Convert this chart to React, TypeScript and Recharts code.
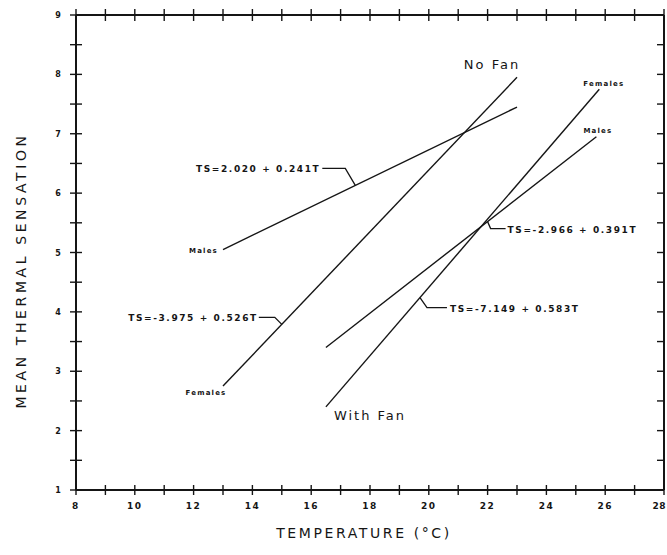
import { LineChart, Line, XAxis, YAxis, ReferenceDot } from 'recharts';

// temperature (°C) and thermal sensation ticks
const tempTicks = [8, 9, 10, 11, 12, 13, 14, 15, 16, 17, 18, 19, 20, 21, 22, 23, 24, 25, 26, 27, 28];
const sensationTicks = [1, 1.5, 2, 2.5, 3, 3.5, 4, 4.5, 5, 5.5, 6, 6.5, 7, 7.5, 8, 8.5, 9];

// regression lines
const noFanMales = [{ t: 13, ts: 5.05 }, { t: 23, ts: 7.45 }];
const noFanFemales = [{ t: 13, ts: 2.75 }, { t: 23, ts: 7.95 }];
const withFanMales = [{ t: 16.5, ts: 3.4 }, { t: 25.7, ts: 6.95 }];
const withFanFemales = [{ t: 16.5, ts: 2.4 }, { t: 25.8, ts: 7.75 }];

// equation callouts and the point where each leader touches its line
const equations = ['TS=2.020 + 0.241T', 'TS=-3.975 + 0.526T', 'TS=-2.966 + 0.391T', 'TS=-7.149 + 0.583T'];
const equationAnchors = [
  { t: 17.5, ts: 6.13 },
  { t: 15, ts: 3.79 },
  { t: 22, ts: 5.52 },
  { t: 19.7, ts: 4.24 },
];

const INK = '#151515';
const FONT = '"DejaVu Sans", "Liberation Sans", sans-serif';

const BottomTick = (props: any) => {
  const { x, y, payload } = props;
  const v = payload.value;
  const last = v === 28;
  return (
    <g>
      <line x1={x} x2={x} y1={y - 5} y2={y + 5} stroke={INK} strokeWidth={1.4} />
      {v % 2 === 0 && (
        <text
          x={last ? 666 : x}
          y={y + 19}
          textAnchor={last ? 'end' : 'middle'}
          fontSize={9}
          fontWeight="bold"
          letterSpacing={last ? 0.5 : 1.5}
          fill={INK}
          fontFamily={FONT}
        >
          {v}
        </text>
      )}
    </g>
  );
};

const TopTick = (props: any) => {
  const { x, y } = props;
  return <line x1={x} x2={x} y1={y - 6} y2={y + 6} stroke={INK} strokeWidth={1.4} />;
};

const LeftTick = (props: any) => {
  const { x, y, payload } = props;
  const v = payload.value;
  return (
    <g>
      <line x1={x - 6} x2={x + 6} y1={y} y2={y} stroke={INK} strokeWidth={1.4} />
      {Number.isInteger(v) && (
        <text x={x - 18} y={y + 3} textAnchor="middle" fontSize={8} fontWeight="bold" fill={INK} fontFamily={FONT}>
          {v}
        </text>
      )}
    </g>
  );
};

const RightTick = (props: any) => {
  const { x, y } = props;
  return <line x1={x - 7} x2={x} y1={y} y2={y} stroke={INK} strokeWidth={1.4} />;
};

const YTitle = (props: any) => {
  const { viewBox } = props;
  const x = 21;
  const y = viewBox.y + viewBox.height / 2 + 18;
  return (
    <text x={x} y={y} transform={`rotate(-90 ${x} ${y})`} textAnchor="middle" dominantBaseline="central" fontSize={14} letterSpacing={3.6} fill={INK} fontFamily={FONT}>
      MEAN THERMAL SENSATION
    </text>
  );
};

const XTitle = (props: any) => {
  const { viewBox } = props;
  const x = viewBox.x + viewBox.width / 2 - 6;
  return (
    <text x={x} y={viewBox.y + 48} textAnchor="middle" fontSize={14} letterSpacing={2.6} fill={INK} fontFamily={FONT}>
      TEMPERATURE (°C)
    </text>
  );
};

// leader hook plus text, offsets relative to the anchor on the line
const callout = (text: string, hook: number[][], tx: number, ty: number, anchor: 'start' | 'end') => (p: any) => {
  const pts = hook.map(([dx, dy]) => `${p.cx + dx},${p.cy + dy}`).join(' ');
  return (
    <g>
      <polyline points={pts} fill="none" stroke={INK} strokeWidth={1.3} />
      <text x={p.cx + tx} y={p.cy + ty} textAnchor={anchor} fontSize={9} fontWeight="bold" letterSpacing={1.6} fill={INK} fontFamily={FONT}>
        {text}
      </text>
    </g>
  );
};

const tag = (text: string, dx: number, dy: number, anchor: 'start' | 'middle' | 'end', size: number, bold: boolean, spacing: number) => (p: any) => (
  <text x={p.cx + dx} y={p.cy + dy} textAnchor={anchor} fontSize={size} fontWeight={bold ? 'bold' : 'normal'} letterSpacing={spacing} fill={INK} fontFamily={FONT}>
    {text}
  </text>
);

const hooks = [
  { hook: [[0, 0], [-10, -17], [-33, -17]], tx: -35, ty: -13, anchor: 'end' as const },
  { hook: [[0, 0], [-7, -7], [-23, -7]], tx: -24, ty: -3, anchor: 'end' as const },
  { hook: [[0, 0], [3, 7], [18, 7]], tx: 20, ty: 11, anchor: 'start' as const },
  { hook: [[0, 0], [7, 10], [27, 10]], tx: 30, ty: 14, anchor: 'start' as const },
];

export default function App() {
  const lineProps = {
    type: 'linear' as const,
    dataKey: 'ts',
    stroke: INK,
    strokeWidth: 1.4,
    dot: false,
    activeDot: false,
    isAnimationActive: false,
  };
  return (
    <div style={{ position: 'absolute', left: 0, top: 0, width: 667, height: 555, background: '#fff' }}>
      <LineChart width={667} height={555} margin={{ top: 15, right: 3, left: 0, bottom: 0 }}>
        <XAxis
          xAxisId={0}
          type="number"
          dataKey="t"
          domain={[8, 28]}
          ticks={tempTicks}
          interval={0}
          height={65}
          tickSize={0}
          tickMargin={0}
          tickLine={false}
          axisLine={{ stroke: INK, strokeWidth: 2 }}
          tick={<BottomTick />}
          label={XTitle}
          allowDataOverflow
        />
        <XAxis
          xAxisId="top"
          orientation="top"
          type="number"
          dataKey="t"
          domain={[8, 28]}
          ticks={tempTicks}
          interval={0}
          height={1}
          mirror
          tickSize={0}
          tickMargin={0}
          tickLine={false}
          axisLine={{ stroke: INK, strokeWidth: 2 }}
          tick={<TopTick />}
          allowDataOverflow
        />
        <YAxis
          yAxisId={0}
          type="number"
          domain={[1, 9]}
          ticks={sensationTicks}
          interval={0}
          width={76}
          tickSize={0}
          tickMargin={0}
          tickLine={false}
          axisLine={{ stroke: INK, strokeWidth: 2 }}
          tick={<LeftTick />}
          label={YTitle}
          allowDataOverflow
        />
        <YAxis
          yAxisId="right"
          orientation="right"
          type="number"
          domain={[1, 9]}
          ticks={sensationTicks}
          interval={0}
          width={1}
          mirror
          tickSize={0}
          tickMargin={0}
          tickLine={false}
          axisLine={{ stroke: INK, strokeWidth: 2 }}
          tick={<RightTick />}
          allowDataOverflow
        />

        <Line data={noFanMales} {...lineProps} name="No Fan Males" />
        <Line data={noFanFemales} {...lineProps} name="No Fan Females" />
        <Line data={withFanMales} {...lineProps} name="With Fan Males" />
        <Line data={withFanFemales} {...lineProps} name="With Fan Females" />
        <Line data={withFanFemales} {...lineProps} xAxisId="top" yAxisId="right" stroke="none" legendType="none" name="frame" />

        {/* series labels pinned to line ends */}
        <ReferenceDot x={noFanMales[0].t} y={noFanMales[0].ts} r={0} shape={tag('Males', -5, 3, 'end', 7, true, 1.2)} />
        <ReferenceDot x={noFanFemales[0].t} y={noFanFemales[0].ts} r={0} shape={tag('Females', -17, 9, 'middle', 7, true, 1.2)} />
        <ReferenceDot x={noFanFemales[1].t} y={noFanFemales[1].ts} r={0} shape={tag('No Fan', -25, -8, 'middle', 13, false, 2)} />
        <ReferenceDot x={withFanFemales[0].t} y={withFanFemales[0].ts} r={0} shape={tag('With Fan', 8, 13, 'start', 13, false, 2)} />
        <ReferenceDot x={withFanFemales[1].t} y={withFanFemales[1].ts} r={0} shape={tag('Females', -16, -3, 'start', 7, true, 1.2)} />
        <ReferenceDot x={withFanMales[1].t} y={withFanMales[1].ts} r={0} shape={tag('Males', -13, -4, 'start', 7, true, 1.2)} />

        {equationAnchors.map((a, i) => (
          <ReferenceDot
            key={i}
            x={a.t}
            y={a.ts}
            r={0}
            shape={callout(equations[i], hooks[i].hook, hooks[i].tx, hooks[i].ty, hooks[i].anchor)}
          />
        ))}
      </LineChart>
    </div>
  );
}
